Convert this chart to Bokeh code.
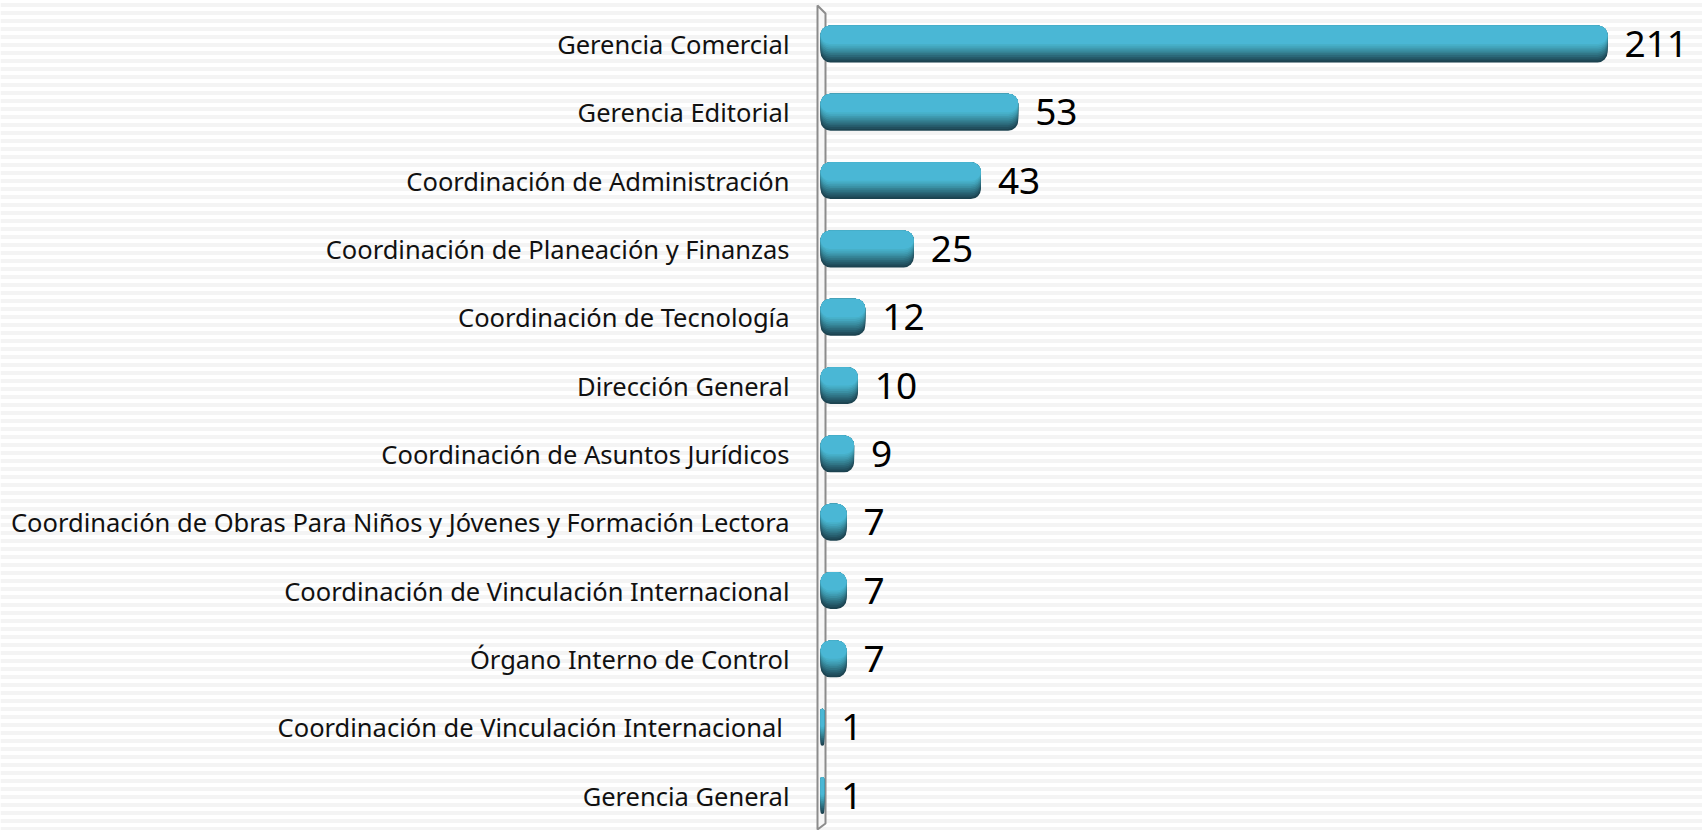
from bokeh.plotting import figure
from bokeh.models import Range1d, BoxAnnotation
from bokeh.core.properties import value
from bokeh.embed import file_html
from bokeh.resources import INLINE

categories = [
    "Gerencia Comercial",
    "Gerencia Editorial",
    "Coordinación de Administración",
    "Coordinación de Planeación y Finanzas",
    "Coordinación de Tecnología",
    "Dirección General",
    "Coordinación de Asuntos Jurídicos",
    "Coordinación de Obras Para Niños y Jóvenes y Formación Lectora",
    "Coordinación de Vinculación Internacional",
    "Órgano Interno de Control",
    "Coordinación de Vinculación Internacional ",
    "Gerencia General",
]
values = [211, 53, 43, 25, 12, 10, 9, 7, 7, 7, 1, 1]
value_labels = [str(v) for v in values]

n = len(categories)
ys = [n - 1 - i for i in range(n)]

PX_PER_UNIT = 3.73
PX_PER_ROW = 68.32
x0 = -820 / PX_PER_UNIT
x1 = (1702 - 820) / PX_PER_UNIT
y_top = (n - 1) + 43.5 / PX_PER_ROW
y_bot = -(830 - 795) / PX_PER_ROW

p = figure(width=1702, height=830, x_range=Range1d(x0, x1), y_range=Range1d(y_bot, y_top),
           output_backend="svg", toolbar_location=None, min_border=0,
           x_axis_location=None, y_axis_location=None)
p.grid.visible = False
p.outline_line_color = None
p.background_fill_color = "white"
p.border_fill_color = "white"

# striped background
p.add_layout(BoxAnnotation(fill_alpha=0, line_alpha=0, hatch_pattern="horizontal_line",
                           hatch_scale=8, hatch_weight=4, hatch_color="#f4f4f4", level="underlay"))

# 3D axis wall
wl = -3 / PX_PER_UNIT
wr = 5 / PX_PER_UNIT
p.patch([wl, wr, wr, wl], [y_top - 5 / PX_PER_ROW, y_top - 13 / PX_PER_ROW, y_bot + 7 / PX_PER_ROW, y_bot + 1 / PX_PER_ROW],
        fill_color="#f6f6f6", line_color="#8c8c8c", line_width=2)

# bars with layered shading (top light, bottom dark)
h = 0.54
layers = [(1.00, "#1c4350"), (0.95, "#214f5e"), (0.90, "#265b6b"), (0.85, "#2b6879"),
          (0.80, "#307586"), (0.75, "#358294"), (0.70, "#3a8fa3"), (0.65, "#3f9bb1"),
          (0.60, "#43a6be"), (0.55, "#47b0c9"), (0.50, "#4ab7d5")]
for frac, col in layers:
    hh = h * frac
    yc = [y + h / 2 - hh / 2 for y in ys]
    p.hbar(y=yc, left=0, right=values, height=hh, fill_color=col, line_color=None,
           border_radius=10)

p.text(x=[0] * n, y=ys, text=categories, x_offset=-31, text_align="right", text_baseline="middle",
       text_font=value("Noto Sans"), text_font_size="25.5px", text_color="#111111")
p.text(x=values, y=ys, text=value_labels, x_offset=17, text_align="left", text_baseline="middle",
       text_font=value("Noto Sans"), text_font_size="37px", text_color="#000000")

open("out.html", "w").write(file_html(p, INLINE))
